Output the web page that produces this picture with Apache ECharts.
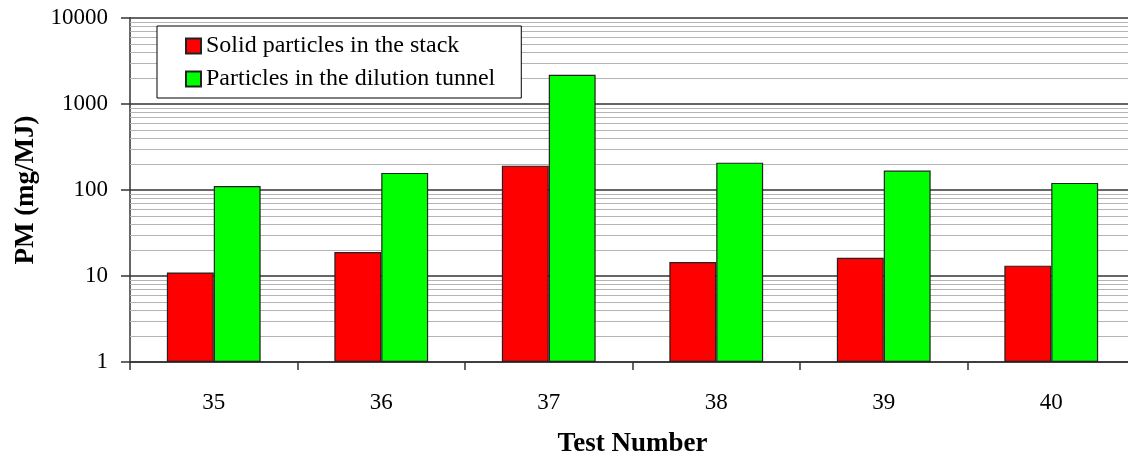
<!DOCTYPE html>
<html>
<head>
<meta charset="utf-8">
<script src="https://cdn.jsdelivr.net/npm/echarts@6/dist/echarts.min.js"></script>
<style>
  html, body { margin: 0; padding: 0; background: #fff; }
  #chart { width: 1128px; height: 455px; }
</style>
</head>
<body>
<div id="chart"></div>
<script>
const categories = ['35', '36', '37', '38', '39', '40'];
const solidStack = [11, 19, 192, 14.5, 16.3, 13.2];
const dilutionTunnel = [111, 158, 2190, 208, 168, 121];
const seriesNames = ['Solid particles in the stack', 'Particles in the dilution tunnel'];
const yMin = 1, yMax = 10000;

// minor (2..9 per decade) gridline values on the log axis
const minorValues = [];
for (let d = yMin; d < yMax; d *= 10) {
  for (let m = 2; m <= 9; m++) minorValues.push(m * d);
}

const FONT = 'Liberation Serif';
const chart = echarts.init(document.getElementById('chart'), null, { renderer: 'canvas' });
chart.setOption({
  animation: false,
  backgroundColor: '#ffffff',
  grid: { left: 130, right: -7, top: 18, bottom: 93, containLabel: false, outerBoundsMode: 'none' },
  legend: {
    orient: 'vertical',
    left: 157,
    top: 26,
    data: seriesNames,
    icon: 'rect',
    itemWidth: 15,
    itemHeight: 15,
    itemGap: 9,
    padding: [8, 26, 7, 28],
    backgroundColor: '#ffffff',
    borderColor: '#000000',
    borderWidth: 1,
    borderRadius: 0,
    textStyle: { fontFamily: FONT, fontSize: 24, color: '#000' }
  },
  xAxis: {
    type: 'category',
    data: categories,
    name: 'Test Number',
    nameLocation: 'middle',
    nameGap: 69,
    nameTextStyle: { fontFamily: FONT, fontSize: 27, fontWeight: 'bold', color: '#000' },
    axisLine: { lineStyle: { color: '#333', width: 1.5 } },
    axisTick: { show: true, length: 8, lineStyle: { color: '#333', width: 1.5 } },
    axisLabel: { fontFamily: FONT, fontSize: 23, color: '#000', margin: 29 },
    splitLine: { show: false }
  },
  yAxis: {
    type: 'log',
    logBase: 10,
    min: yMin,
    max: yMax,
    name: 'PM (mg/MJ)',
    nameLocation: 'middle',
    nameRotate: 90,
    nameGap: 90,
    nameTextStyle: { fontFamily: FONT, fontSize: 27, fontWeight: 'bold', color: '#000' },
    axisLine: { show: true, lineStyle: { color: '#333', width: 1.5 } },
    axisTick: { show: true, length: 9, lineStyle: { color: '#333', width: 1.5 } },
    axisLabel: { fontFamily: FONT, fontSize: 23, color: '#000', margin: 22, formatter: v => String(v) },
    splitLine: { show: true, lineStyle: { color: '#333', width: 1.5 } }
  },
  series: [
    {
      name: 'minor-grid',
      type: 'line',
      data: [],
      z: 1,
      silent: true,
      markLine: {
        silent: true,
        z: 1,
        symbol: 'none',
        label: { show: false },
        lineStyle: { color: '#b4b4b4', width: 1.2, type: 'solid' },
        emphasis: { disabled: true },
        data: minorValues.map(v => ({ yAxis: v }))
      }
    },
    {
      name: seriesNames[0],
      type: 'bar',
      data: solidStack,
      z: 3,
      barGap: '0%',
      barCategoryGap: '44%',
      itemStyle: { color: '#ff0000', borderColor: '#222', borderWidth: 1.2 }
    },
    {
      name: seriesNames[1],
      type: 'bar',
      data: dilutionTunnel,
      z: 3,
      barGap: '0%',
      barCategoryGap: '44%',
      itemStyle: { color: '#00ff00', borderColor: '#222', borderWidth: 1.2 }
    }
  ]
});
</script>
</body>
</html>
